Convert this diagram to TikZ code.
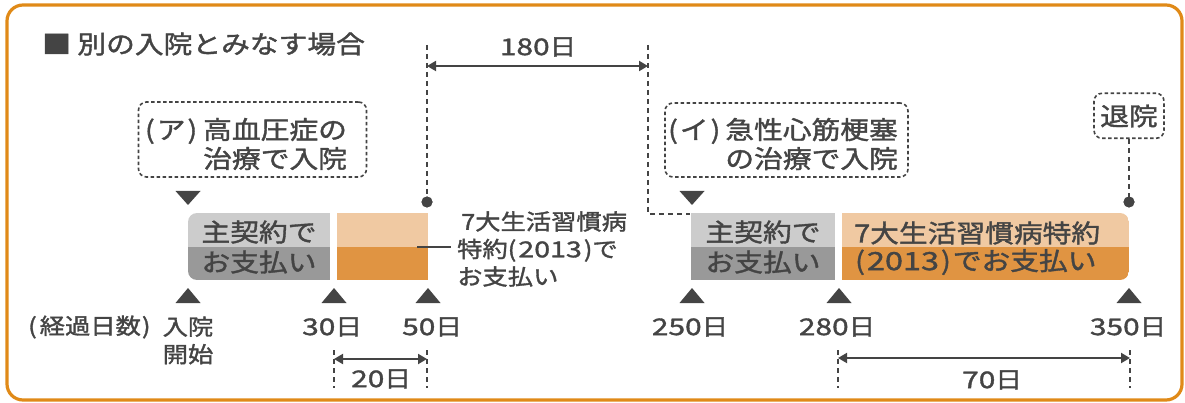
\documentclass[tikz,border=0pt]{standalone}
\usepackage{fontspec}
\usetikzlibrary{arrows.meta,calc}
\newfontfamily\jpfont[FakeStretch=1.15,FakeBold=1.5]{Noto Sans CJK JP}
\newfontfamily\jpnum[FakeStretch=1.3,FakeBold=1.5]{Noto Sans CJK JP}
\newcommand{\jlp}{(\hspace{2pt}}
\newcommand{\jrp}{\hspace{2pt})}
\definecolor{frameor}{RGB}{224,138,24}
\definecolor{ink}{RGB}{68,68,68}
\definecolor{lgray}{RGB}{204,204,204}
\definecolor{mgray}{RGB}{153,153,153}
\definecolor{lorange}{RGB}{240,201,162}
\definecolor{dorange}{RGB}{224,148,66}
\tikzset{
  txt/.style={font=\jpfont\fontsize{25}{29}\selectfont, text=ink, inner sep=0pt},
  ttl/.style={font=\jpfont\fontsize{25}{30}\selectfont, text=ink, inner sep=0pt},
  lbl/.style={font=\jpfont\fontsize{22}{27.5}\selectfont, text=ink, inner sep=0pt},
  numlbl/.style={font=\jpfont\fontsize{23}{28}\selectfont, text=ink, inner sep=0pt},
  dbox/.style={draw=ink, line width=1.6pt, dash pattern=on 3.5pt off 2.5pt, rounded corners=8pt, inner sep=0pt},
  vdash/.style={draw=ink, line width=2pt, dash pattern=on 5pt off 4pt},
  dimarrow/.style={draw=ink, line width=2pt, {Triangle[length=9pt,width=10pt]}-{Triangle[length=9pt,width=10pt]}},
  dotmark/.style={circle, fill=ink, inner sep=0pt, minimum size=11pt},
  uptri/.pic={\fill[ink] (-12.5,15) -- (12.5,15) -- (0,0) -- cycle;},
  downtri/.pic={\fill[ink] (-12.5,0) -- (12.5,0) -- (0,14) -- cycle;},
}
\begin{document}
\begin{tikzpicture}[x=1pt,y=-1pt]
\useasboundingbox (0,0) rectangle (1185,403);
% frame
\draw[frameor, line width=3.2pt, rounded corners=16pt] (7,5) rectangle (1182,400);
% title
\node[ttl, anchor=west] (title) at (42,44) {■ 別の入院とみなす場合};

% callout boxes
\node[dbox, minimum width=228pt, minimum height=75pt] (boxA) at (252.5,139.5) {};
\node[txt, align=right] (textA) at (246,144) {\jlp ア\jrp\hspace{6pt}高血圧症の\\治療で入院};
\node[dbox, minimum width=243pt, minimum height=74pt] (boxB) at (786.5,140) {};
\node[txt, align=right] (textB) at (783,144) {\jlp イ\jrp\hspace{5pt}急性心筋梗塞\\の治療で入院};
\node[dbox, minimum width=70pt, minimum height=45pt] (boxT) at (1129,115.8) {};
\node[txt] (textT) at (1129,116) {退院};

% dashed guide lines
\coordinate (topL) at (427,45);
\coordinate (topR) at (648,45);
\coordinate (cornerR) at (648,214);
\coordinate (endR) at (690,214);
\node[dotmark] (dotL) at (427,202) {};
\node[dotmark] (dotR) at (1129,202) {};
\draw[vdash] (topL) -- (dotL.center);
\draw[vdash] (topR) -- (cornerR) -- (endR);
\draw[vdash] (boxT.south) -- (dotR.center);
\node[dotmark] at (dotL) {};
\node[dotmark] at (dotR) {};

% 180 days
\coordinate (a180L) at (427,66);
\coordinate (a180R) at (648,66);
\draw[dimarrow] (a180L) -- (a180R);
\node[numlbl] (n180) at (538,47) {{\jpnum 180}日};

% down triangles
\pic at (188,191) {downtri};
\pic at (692,191) {downtri};

% left bars
\begin{scope}
\clip[rounded corners=9pt] (188,213) rectangle (345,280);
\fill[lgray] (188,213) rectangle (330,247);
\fill[mgray] (188,247) rectangle (330,280);
\end{scope}
\fill[lorange] (337,213) rectangle (428,247);
\fill[dorange] (337,247) rectangle (428,280);
\node[txt] (g1a) at (259,232) {主契約で};
\node[txt] (g1b) at (259,262) {お支払い};

% right bars
\fill[lgray] (691,213) rectangle (835,247);
\fill[mgray] (691,247) rectangle (835,280);
\begin{scope}
\clip[rounded corners=9pt] (820,213) rectangle (1129,280);
\fill[lorange] (842,213) rectangle (1129,247);
\fill[dorange] (842,247) rectangle (1129,280);
\end{scope}
\node[txt] (g2a) at (763,232) {主契約で};
\node[txt] (g2b) at (763,262) {お支払い};
\node[txt, anchor=west] (o2a) at (854,233) {7大生活習慣病特約};
\node[txt, anchor=west] (o2b) at (855,262) {\jlp{\jpnum 2013}\jrp\hspace{2pt}でお支払い};

% side label
\node[lbl, align=left, anchor=west] (side) at (457,249) {\hspace{4pt}7大生活習慣病\\特約\jlp{\jpnum 2013}\jrp で\\お支払い};
\coordinate (lblstart) at (417,247);
\draw[ink, line width=1.2pt] (lblstart) -- (451,247);

% up triangles
\pic at (188,288) {uptri};
\pic at (334,288) {uptri};
\pic at (428,288) {uptri};
\pic at (692,288) {uptri};
\pic at (839,288) {uptri};
\pic at (1129,288) {uptri};

% day labels
\node[lbl, anchor=west] (keika) at (28,327) {(\hspace{3pt}経過日数\hspace{1pt})};
\node[lbl, align=left] (nyuin) at (188,340.5) {入院\\開始};
\node[numlbl] (d30) at (332,327) {{\jpnum 30}日};
\node[numlbl] (d50) at (432,327) {{\jpnum 50}日};
\node[numlbl] (d250) at (690,327) {{\jpnum 250}日};
\node[numlbl] (d280) at (837,327) {{\jpnum 280}日};
\node[numlbl] (d350) at (1128,327) {{\jpnum 350}日};

% 20 days bracket
\coordinate (b20La) at (334,350); \coordinate (b20Lb) at (334,388);
\coordinate (b20Ra) at (427,350); \coordinate (b20Rb) at (427,388);
\draw[vdash] (b20La) -- (b20Lb);
\draw[vdash] (b20Ra) -- (b20Rb);
\draw[dimarrow] (334,359) -- (427,359);
\node[numlbl] (d20) at (381,379) {{\jpnum 20}日};

% 70 days bracket
\coordinate (b70La) at (838,350); \coordinate (b70Lb) at (838,388);
\coordinate (b70Ra) at (1130,350); \coordinate (b70Rb) at (1130,388);
\draw[vdash] (b70La) -- (b70Lb);
\draw[vdash] (b70Ra) -- (b70Rb);
\draw[dimarrow] (838,358) -- (1130,358);
\node[numlbl] (d70) at (992,380) {{\jpnum 70}日};
\end{tikzpicture}
\end{document}
